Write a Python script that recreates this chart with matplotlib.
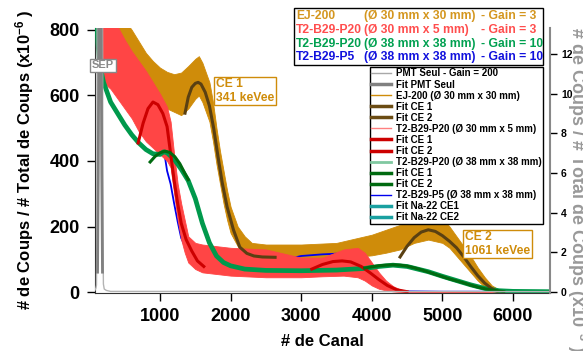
import matplotlib
matplotlib.use("Agg")
import matplotlib.pyplot as plt
from matplotlib.lines import Line2D
from matplotlib.patches import Rectangle

plt.rcParams["font.family"] = ["Liberation Sans", "DejaVu Sans"]
plt.rcParams["font.weight"] = "bold"
plt.rcParams["mathtext.fontset"] = "custom"
plt.rcParams["mathtext.rm"] = "Liberation Sans:bold"
plt.rcParams["mathtext.default"] = "rm"

# ---- data (counts / total, x1e-6) ----
# EJ-200 (30x30) : noisy band, lower / upper edge
ORG_CH = [300, 400, 500, 600, 700, 800, 900, 1000, 1100, 1200, 1300, 1400, 1500, 1550, 1600,
          1700, 1750, 1800, 1850, 1900, 1950, 2000, 2100, 2200, 2300, 2500, 3000, 3500, 3800,
          4000, 4200, 4400, 4600, 4800, 5000, 5100, 5200, 5300, 5400, 5500, 5600, 5700, 5800,
          6000, 6500]
ORG_LO = [830, 760, 720, 680, 640, 610, 585, 570, 560, 550, 540, 560, 590, 600, 580,
          520, 460, 390, 330, 270, 220, 180, 140, 115, 105, 100, 100, 105, 108,
          112, 120, 130, 150, 160, 150, 135, 110, 85, 60, 35, 15, 5, 0,
          0, 0]
ORG_HI = [830, 830, 830, 800, 765, 730, 705, 685, 672, 665, 670, 690, 712, 720, 700,
          640, 580, 500, 430, 370, 310, 260, 200, 170, 150, 145, 145, 150, 165,
          175, 190, 205, 220, 240, 225, 200, 170, 140, 110, 75, 45, 20, 8,
          5, 5]

# T2-B29-P20 (30x5)
RED_CH = [165, 200, 300, 400, 500, 600, 700, 800, 900, 1000, 1100, 1150, 1200, 1250, 1300,
          1350, 1400, 1500, 1600, 1800, 2000, 2500, 2900, 3000, 3300, 3600, 3800, 3900, 4000,
          4100, 4200, 4300, 4400, 4500, 5000, 6500]
RED_LO = [620, 640, 620, 590, 560, 530, 490, 460, 440, 420, 400, 380, 300, 220, 160,
          120, 90, 70, 60, 55, 50, 45, 45, 45, 48, 50, 45, 35, 20,
          10, 5, 2, 0, 0, 0, 0]
RED_HI = [830, 830, 830, 810, 770, 735, 705, 675, 640, 605, 565, 520, 420, 330, 270,
          220, 170, 150, 145, 140, 135, 130, 110, 105, 105, 130, 135, 120, 90,
          60, 35, 18, 8, 3, 2, 2]

# T2-B29-P20 (38x38)
GRN_CH = [105, 120, 150, 200, 300, 400, 500, 600, 700, 800, 900, 1000, 1050, 1100, 1200,
          1300, 1400, 1500, 1600, 1700, 1800, 1900, 2000, 2200, 2500, 3000, 3500, 3900, 4100,
          4300, 4500, 4800, 5000, 5200, 5400, 5600, 5800, 6000, 6500]
GRN_VAL = [830, 760, 690, 640, 580, 545, 510, 480, 455, 435, 422, 420, 428, 425, 405,
           375, 340, 285, 210, 150, 110, 90, 80, 70, 66, 65, 67, 72, 78,
           82, 78, 62, 48, 35, 22, 11, 4, 2, 1]

# T2-B29-P5 (38x38)
BLU_CH = [185, 200, 300, 400, 500, 600, 700, 760, 850, 950, 1000, 1050, 1100, 1150, 1200,
          1250, 1300, 1400, 1500, 2000, 2500, 2900, 3000, 3300, 3600, 3750, 3900, 4000, 4100,
          4200, 4300, 4500, 5000, 6500]
BLU_VAL = [830, 770, 700, 670, 650, 625, 605, 595, 560, 520, 500, 440, 370, 330, 270,
           215, 165, 118, 100, 95, 98, 105, 110, 115, 118, 110, 85, 55, 30,
           14, 6, 2, 1, 1]

# fits
ORG_FIT1_CH = [1354, 1400, 1450, 1500, 1540, 1580, 1640, 1700, 1760, 1820, 1880, 1950, 2040,
               2130, 2230, 2330, 2450, 2630]
ORG_FIT1 = [546, 595, 625, 637, 640, 635, 610, 568, 500, 415, 335, 260, 190,
            137, 118, 110, 107, 106]
ORG_FIT2_CH = [4400, 4500, 4600, 4700, 4800, 4900, 5000, 5100, 5200, 5300, 5400, 5500, 5600,
               5700, 5780]
ORG_FIT2 = [107, 140, 166, 183, 190, 185, 172, 155, 135, 108, 78, 50, 27, 10, 2]

RED_FIT1_CH = [690, 760, 830, 900, 970, 1040, 1100, 1155, 1200, 1250, 1300, 1370, 1450, 1530, 1620]
RED_FIT1 = [455, 515, 560, 580, 572, 545, 505, 415, 340, 270, 210, 160, 125, 95, 78]
RED_FIT2_CH = [3150, 3300, 3450, 3580, 3700, 3850, 3980, 4100, 4220, 4350, 4500]
RED_FIT2 = [70, 84, 93, 95, 92, 78, 58, 38, 20, 7, 1]

GRN_FIT1_CH = [860, 930, 1000, 1070, 1140, 1210, 1280, 1350, 1400]
GRN_FIT1 = [397, 414, 425, 430, 426, 413, 392, 363, 343]
GRN_FIT2_CH = [3900, 4000, 4100, 4200, 4300, 4400, 4500, 4600, 4700, 4800, 4900, 5000, 5100,
               5200, 5300, 5400, 5500, 5600, 5700, 5800, 5870]
GRN_FIT2 = [73, 77, 80, 82, 83, 82, 79, 74, 68, 61, 54, 47, 40, 34, 28, 21, 15, 10, 6, 3, 1]

# PMT alone (right axis, x1e-3)
PMT_CH = [80, 92, 100, 105, 110, 150, 185, 192, 198, 210, 240, 300, 6500]
PMT_VAL = [0.1, 0.2, 0.35, 3, 16, 25, 16, 3, 0.4, 0.15, 0.08, 0.03, 0.02]
PMT_FIT_CH = [115, 125, 135, 150, 165, 175, 185]
PMT_FIT = [1, 6, 14, 20, 14, 6, 1]

LEFT_TICKS = [0, 200, 400, 600, 800]
X_TICKS = [1000, 2000, 3000, 4000, 5000, 6000]
RIGHT_TICKS = [0, 2, 4, 6, 8, 10, 12]

C_ORG = "#cf8c0a"
C_RED = "#ff4545"
C_GRN = "#00994c"
C_BLU = "#0000ee"
C_ORG_FIT = "#5a4012"
C_RED_FIT = "#cc0000"
C_GRN_FIT = "#006a10"

W, H = 583, 351


def fx(px):
    return px / W


def fy(py):
    return 1 - py / H


fig = plt.figure(figsize=(W / 100, H / 100), dpi=100)
ax = fig.add_axes([fx(95), fy(293), 455 / W, 265 / H])

ax.fill_between(ORG_CH, ORG_LO, ORG_HI, color=C_ORG, lw=0.6, zorder=1)
ax.plot(BLU_CH, BLU_VAL, color=C_BLU, lw=1.3, zorder=2)
ax.fill_between(RED_CH, RED_LO, RED_HI, color=C_RED, lw=0.6, zorder=3)
ax.plot(GRN_CH, GRN_VAL, color=C_GRN, lw=3.4, zorder=4)

ax.plot(ORG_FIT1_CH, ORG_FIT1, color=C_ORG_FIT, lw=2.2, zorder=5)
ax.plot(ORG_FIT2_CH, ORG_FIT2, color=C_ORG_FIT, lw=2.2, zorder=5)
ax.plot(RED_FIT1_CH, RED_FIT1, color=C_RED_FIT, lw=2.2, zorder=5)
ax.plot(RED_FIT2_CH, RED_FIT2, color=C_RED_FIT, lw=2.2, zorder=5)
ax.plot(GRN_FIT1_CH, GRN_FIT1, color=C_GRN_FIT, lw=2.2, zorder=5)
ax.plot(GRN_FIT2_CH, GRN_FIT2, color=C_GRN_FIT, lw=2.2, zorder=5)

ax.set_xlim(79, 6524)
ax.set_ylim(-3, 806)
ax.set_xticks(X_TICKS)
ax.set_yticks(LEFT_TICKS)
ax.tick_params(direction="out", length=6, width=1, labelsize=13, pad=5)
for s in ["top", "right"]:
    ax.spines[s].set_visible(False)
for s in ["left", "bottom"]:
    ax.spines[s].set_color("#333333")

ax.set_xlabel("# de Canal", fontsize=12, fontweight="bold")
ax.xaxis.set_label_coords((322 - 95) / 455, (293 - 334) / 265)
fig.text(fx(25), fy(160), "# de Coups / # Total de Coups (x10$^{-6}$ )", rotation=90,
         ha="center", va="center", fontsize=12, fontweight="bold")

# right axis: PMT alone
ax2 = ax.twinx()
ax2.plot(PMT_CH, PMT_VAL, color="#b4b4b4", lw=1)
ax2.plot(PMT_FIT_CH, PMT_FIT, color="#808080", lw=2)
ax2.set_ylim(-0.05, 13.3)
ax2.set_yticks(RIGHT_TICKS)
ax2.tick_params(axis="y", direction="out", length=5, width=1, labelsize=7.5, pad=3)
for s in ["top", "left", "bottom"]:
    ax2.spines[s].set_visible(False)
ax2.spines["right"].set_color("#888888")
ax2.spines["right"].set_linewidth(1.5)
fig.text(fx(577), fy(190), "# de Coups / # Total de Coups (x10$^{-3}$ )", rotation=270,
         ha="center", va="center", fontsize=13, fontweight="bold", color="#999999")

# annotations
fig.text(fx(216), fy(91), "CE 1\n341 keVee", color=C_ORG, fontsize=8.7, fontweight="bold",
         ha="left", va="center", linespacing=1.15,
         bbox=dict(boxstyle="square,pad=0.15", fc="white", ec=C_ORG, lw=1))
fig.text(fx(465), fy(244), "CE 2\n1061 keVee", color=C_ORG, fontsize=8.7, fontweight="bold",
         ha="left", va="center", linespacing=1.15,
         bbox=dict(boxstyle="square,pad=0.15", fc="white", ec=C_ORG, lw=1))
fig.text(fx(103), fy(65.5), "SEP", color="#888888", fontsize=8, fontweight="bold",
         ha="center", va="center",
         bbox=dict(boxstyle="square,pad=0.15", fc="white", ec="#888888", lw=1))

# coloured text legend (top)
fig.add_artist(Rectangle((fx(294), fy(65)), 249 / W, 57 / H, transform=fig.transFigure,
                         fc="white", ec="black", lw=1, zorder=10))
rows = [
    ("EJ-200", "(\u00d8 30 mm x 30 mm)", "- Gain = 3", "#d4961e"),
    ("T2-B29-P20", "(\u00d8 30 mm x 5 mm)", "- Gain = 3", "#ff4d4d"),
    ("T2-B29-P20", "(\u00d8 38 mm x 38 mm)", "- Gain = 10", "#00a050"),
    ("T2-B29-P5", "(\u00d8 38 mm x 38 mm)", "- Gain = 10", "#1010dd"),
]
row_y = [16, 30, 44, 57]
for (name, dim, gain, col), yy in zip(rows, row_y):
    for xx, txt in [(296, name), (364, dim), (481, gain)]:
        fig.text(fx(xx), fy(yy), txt, color=col, fontsize=8.7, fontweight="bold",
                 ha="left", va="center", zorder=11)

# line legend
handles = [
    Line2D([], [], color="#a8a8a8", lw=1, label="PMT Seul - Gain = 200"),
    Line2D([], [], color="#808080", lw=2.5, label="Fit PMT Seul"),
    Line2D([], [], color=C_ORG, lw=1, label="EJ-200 (\u00d8 30 mm x 30 mm)"),
    Line2D([], [], color="#6b4c14", lw=2.5, label="Fit CE 1"),
    Line2D([], [], color="#6b4c14", lw=2.5, label="Fit CE 2"),
    Line2D([], [], color="#ff8080", lw=1, label="T2-B29-P20 (\u00d8 30 mm x 5 mm)"),
    Line2D([], [], color=C_RED_FIT, lw=2.5, label="Fit CE 1"),
    Line2D([], [], color=C_RED_FIT, lw=2.5, label="Fit CE 2"),
    Line2D([], [], color="#80c8a0", lw=2, label="T2-B29-P20 (\u00d8 38 mm x 38 mm)"),
    Line2D([], [], color=C_GRN_FIT, lw=2.5, label="Fit CE 1"),
    Line2D([], [], color=C_GRN_FIT, lw=2.5, label="Fit CE 2"),
    Line2D([], [], color=C_BLU, lw=1, label="T2-B29-P5 (\u00d8 38 mm x 38 mm)"),
    Line2D([], [], color="#1aa0a0", lw=2.5, label="Fit Na-22 CE1"),
    Line2D([], [], color="#1aa0a0", lw=2.5, label="Fit Na-22 CE2"),
]
leg = ax2.legend(handles=handles, loc="upper right", bbox_to_anchor=(fx(543), fy(67)),
                 bbox_transform=fig.transFigure, borderaxespad=0,
                 prop={"weight": "bold", "size": 7}, frameon=True, fancybox=False,
                 framealpha=1, edgecolor="black", handlelength=2.05, handletextpad=0.45,
                 borderpad=0.15, labelspacing=0.11)
leg.get_frame().set_linewidth(1)

fig.savefig("out.png", dpi=100)
